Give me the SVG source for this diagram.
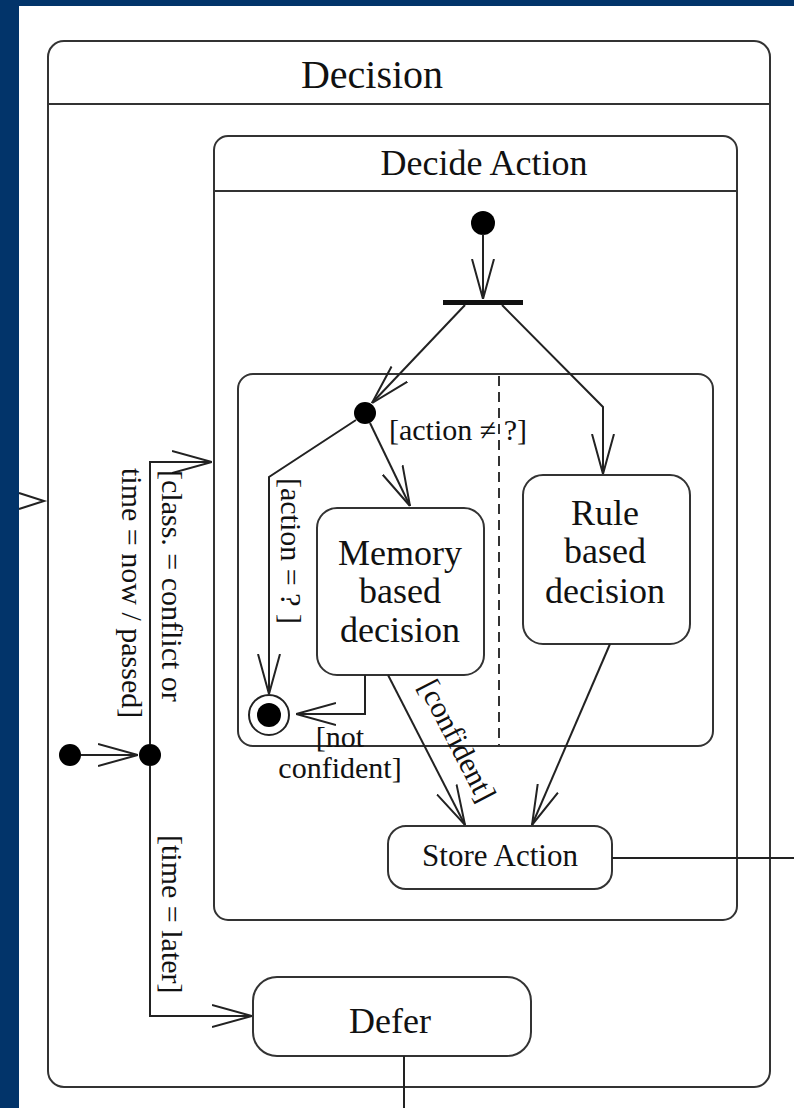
<svg xmlns="http://www.w3.org/2000/svg" width="794" height="1108" viewBox="0 0 794 1108">
<defs>
<style>
.box{fill:#fff;stroke:#333;stroke-width:2}
.reg{fill:none;stroke:#333;stroke-width:2}
.ln{fill:none;stroke:#222;stroke-width:2}
.dash{fill:none;stroke:#333;stroke-width:2;stroke-dasharray:10 6}
.t{font-family:"Liberation Serif","Times New Roman",serif;fill:#111}
.lbl{font-family:"Liberation Serif","Times New Roman",serif;fill:#111;font-size:30px}
.dot{fill:#000}
</style>
<marker id="ah" viewBox="0 0 40 24" refX="40" refY="12" markerWidth="40" markerHeight="24" markerUnits="userSpaceOnUse" orient="auto">
<path d="M0,1 L40,12 L0,23" fill="none" stroke="#222" stroke-width="2"/>
</marker>
</defs>
<rect x="0" y="0" width="794" height="1108" fill="#fff"/>

<g id="decision">
<rect class="box" x="48" y="41" width="722" height="1046" rx="16"/>
<line class="reg" x1="48" y1="104" x2="770" y2="104"/>
<text class="t" x="372" y="88" font-size="40" text-anchor="middle">Decision</text>
</g>

<g id="decide-action">
<rect class="box" x="214" y="136" width="523" height="784" rx="14"/>
<line class="reg" x1="214" y1="191" x2="737" y2="191"/>
<text class="t" x="484" y="175" font-size="36" text-anchor="middle">Decide Action</text>
</g>

<g id="concurrent-region">
<rect class="reg" x="238" y="374" width="475" height="372" rx="15"/>
<line class="dash" x1="499" y1="376" x2="499" y2="745"/>
</g>

<g id="initial-inner"><circle class="dot" cx="483" cy="223" r="12"/></g>
<g id="fork"><rect x="443" y="300" width="80" height="5" fill="#111"/></g>
<g id="choice-inner"><circle class="dot" cx="365" cy="413" r="11"/></g>

<g id="memory">
<rect class="box" x="317" y="508" width="167" height="167" rx="20"/>
<text class="t" font-size="36" text-anchor="middle"><tspan x="400" y="565">Memory</tspan><tspan x="400" y="603">based</tspan><tspan x="400" y="642">decision</tspan></text>
</g>

<g id="rule">
<rect class="box" x="523" y="475" width="167" height="169" rx="20"/>
<text class="t" font-size="36" text-anchor="middle"><tspan x="605" y="525">Rule</tspan><tspan x="605" y="563">based</tspan><tspan x="605" y="603">decision</tspan></text>
</g>

<g id="final">
<circle cx="269" cy="715" r="20" fill="#fff" stroke="#222" stroke-width="2"/>
<circle class="dot" cx="269" cy="715" r="12"/>
</g>

<g id="store-action">
<rect class="box" x="388" y="826" width="224" height="63" rx="18"/>
<text class="t" x="500" y="866" font-size="31" text-anchor="middle">Store Action</text>
</g>

<g id="initial-outer"><circle class="dot" cx="70" cy="755" r="11"/></g>
<g id="choice-outer"><circle class="dot" cx="150" cy="755" r="11"/></g>

<g id="defer">
<rect class="box" x="253" y="977" width="278" height="79" rx="24"/>
<text class="t" x="390" y="1033" font-size="36" text-anchor="middle">Defer</text>
</g>

<g id="connectors">
<line class="ln" x1="483" y1="234" x2="483" y2="299" marker-end="url(#ah)"/>
<line class="ln" x1="465" y1="305" x2="372" y2="403" marker-end="url(#ah)"/>
<polyline class="ln" points="502,305 603,407 603,474" marker-end="url(#ah)"/>
<line class="ln" x1="370" y1="423" x2="410" y2="506" marker-end="url(#ah)"/>
<polyline class="ln" points="356,420 269,477 269,694" marker-end="url(#ah)"/>
<polyline class="ln" points="365,675 365,714 296,714" marker-end="url(#ah)"/>
<line class="ln" x1="388" y1="675" x2="465" y2="825" marker-end="url(#ah)"/>
<line class="ln" x1="610" y1="644" x2="532" y2="825" marker-end="url(#ah)"/>
<line class="ln" x1="612" y1="858" x2="794" y2="858"/>
<polyline class="ln" points="19,493 44,501 19,509"/>
<line class="ln" x1="81" y1="755" x2="138" y2="755" marker-end="url(#ah)"/>
<polyline class="ln" points="150,744 150,462 212,462" marker-end="url(#ah)"/>
<polyline class="ln" points="150,766 150,1016 252,1016" marker-end="url(#ah)"/>
<line class="ln" x1="404" y1="1056" x2="404" y2="1108"/>
</g>

<g id="labels">
<text class="lbl" x="389" y="440">[action ≠ ?]</text>
<text class="lbl" transform="translate(281,478) rotate(90)">[action = ? ]</text>
<text class="lbl" text-anchor="middle"><tspan x="340" y="747">[not</tspan><tspan x="340" y="778">confident]</tspan></text>
<text class="lbl" transform="translate(418,686) rotate(62.7)">[confident]</text>
<text class="lbl" font-size="31" transform="translate(162,470) rotate(90)">[class. = conflict or</text>
<text class="lbl" font-size="31" transform="translate(122,468) rotate(90)">time = now / passed]</text>
<text class="lbl" font-size="31" transform="translate(162,835) rotate(90)">[time = later]</text>
</g>

<g id="frame">
<rect x="0" y="0" width="794" height="6" fill="#02346a"/>
<rect x="0" y="0" width="19" height="1108" fill="#02346a"/>
</g>
</svg>
